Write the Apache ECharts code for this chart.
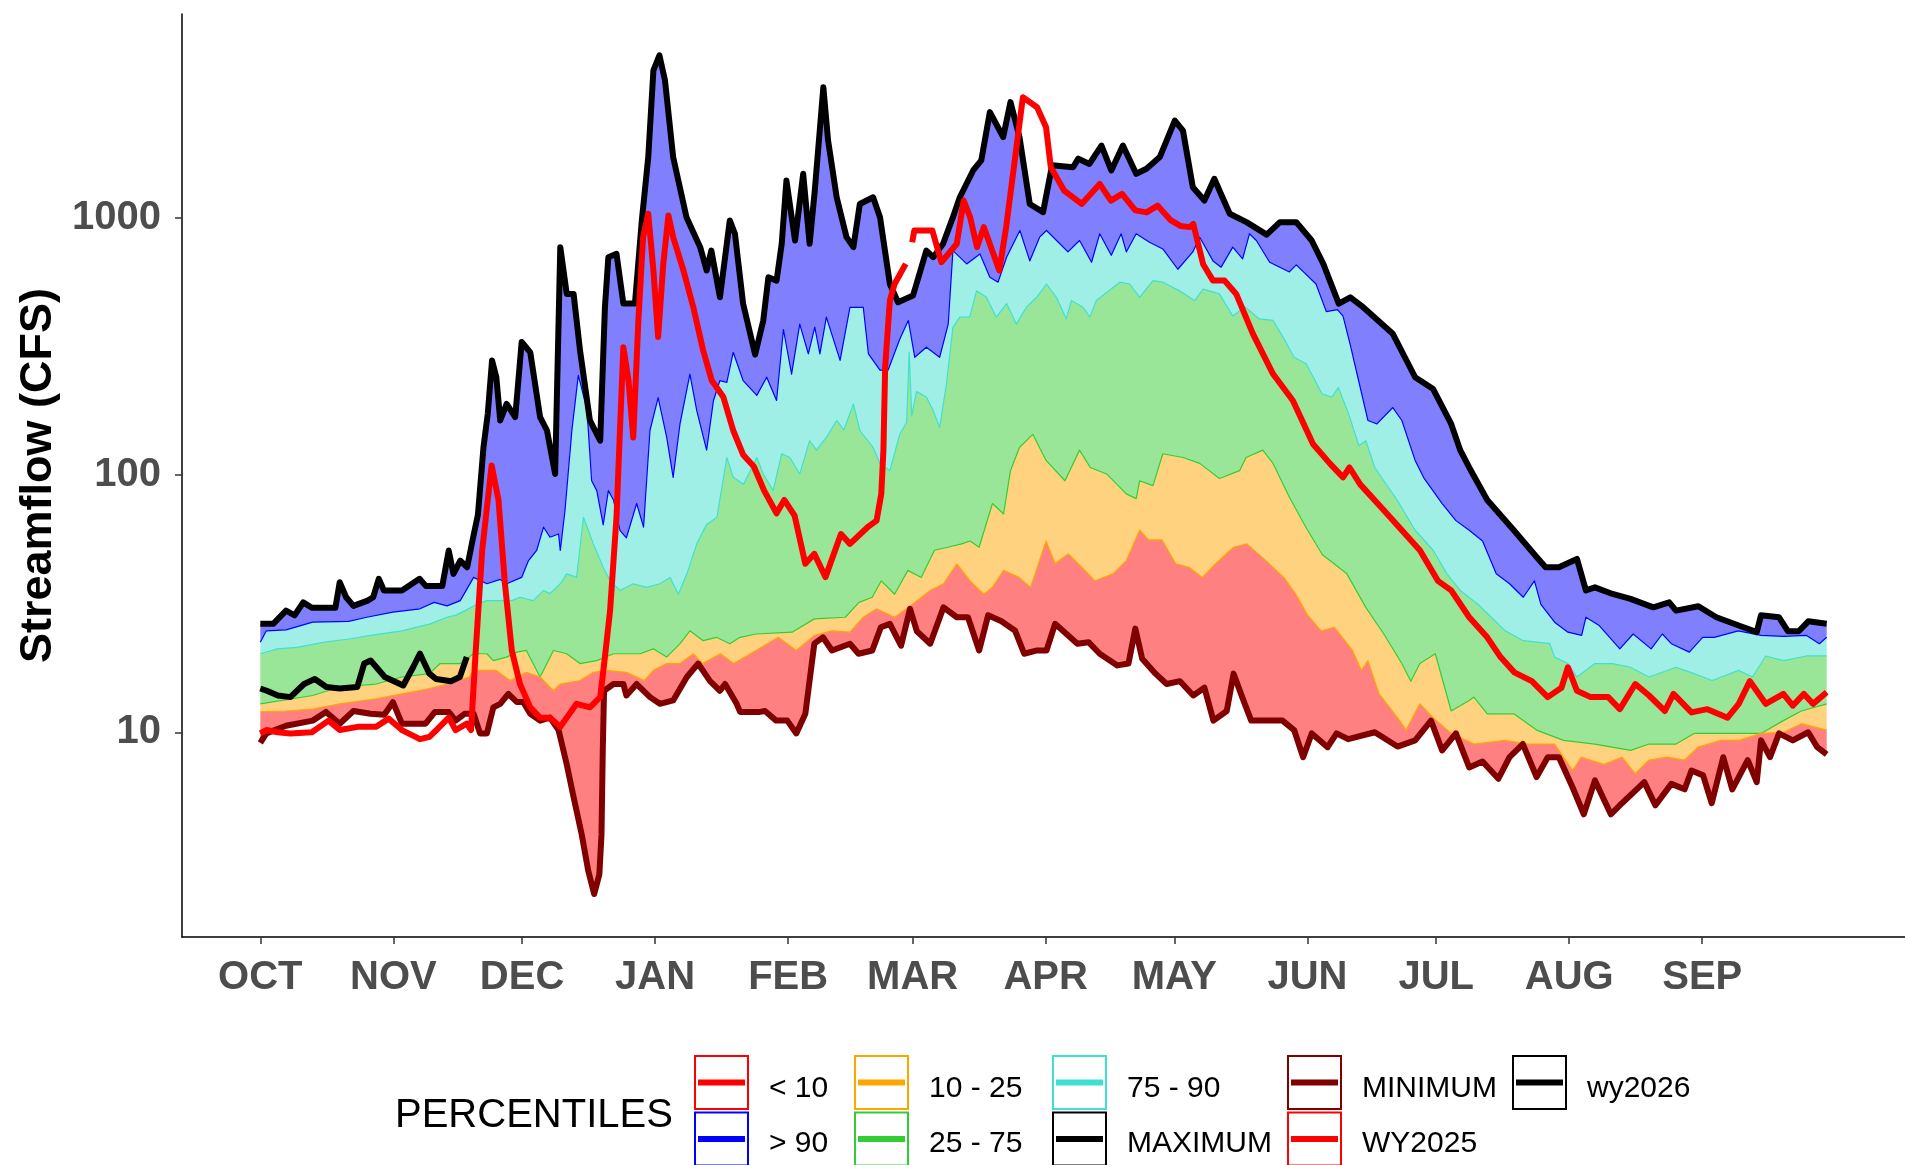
<!DOCTYPE html>
<html>
<head>
<meta charset="utf-8">
<script src="https://cdn.jsdelivr.net/npm/echarts@6/dist/echarts.min.js"></script>
<style>
  html, body { margin: 0; padding: 0; background: #ffffff; }
  #chart { width: 1905px; height: 1165px; }
</style>
</head>
<body>
<div id="chart"></div>
<script>
// Water-year axis: day 0 = Oct 1, 366-day calendar (Feb 29 included)
const monthLabels = ['OCT', 'NOV', 'DEC', 'JAN', 'FEB', 'MAR', 'APR', 'MAY', 'JUN', 'JUL', 'AUG', 'SEP'];
const monthStartDays = [0, 31, 61, 92, 123, 152, 183, 213, 244, 274, 305, 336];
const yTickValues = [10, 100, 1000];

// Daily streamflow statistics, [day of water year, cfs]
const maximum = [[0,26.4],[3,26.4],[6,29.7],[8,28.5],[10,32],[12,30.5],[17.5,30.5],[18.5,38.3],[20,33.5],[21.7,31],[25,32.5],[26.3,33.5],[27.6,39.5],[28.8,35.6],[33,35.6],[37.1,39.5],[38.6,37],[42.4,37],[43.9,50.9],[45,41.3],[46.6,46.5],[48.2,43.8],[49.6,57.3],[50.7,70],[52,128],[53,173],[54,279],[55,240],[55.9,163],[57.4,189],[59.4,168],[60.9,329],[62.9,300],[65.2,168],[66.8,149],[68.7,101],[69.9,769],[71.4,506],[73,506],[74.5,305],[76.8,163],[79.2,136],[80.3,449],[81.1,703],[83,724],[84.6,464],[87.3,464],[88.9,977],[90.4,1722],[91.6,3741],[93,4280],[94.3,3420],[96.2,1722],[99.3,1006],[102.5,769],[104,624],[105.1,746],[107.1,491],[109.4,977],[110.6,867],[112.5,464],[115.3,294],[117.2,399],[118.4,588],[120.3,570],[121.5,793],[122.6,1396],[124.6,816],[126.5,1483],[128,793],[129.2,1276],[131.2,3221],[132.3,2000],[134.3,1202],[136.6,841],[138.2,769],[139.7,1132],[142.8,1202],[144.4,1006],[146.7,553],[148.6,470],[152.1,499],[155.2,746],[156.8,703],[159.1,793],[161.4,1006],[163,1202],[166.1,1528],[168,1671],[170,2576],[173.1,2061],[174.8,2818],[176.9,2061],[179.3,1132],[182.4,1052],[184.5,1600],[189.4,1574],[190.6,1698],[193.2,1620],[196,1910],[198.3,1528],[201,1910],[204.1,1483],[206.5,1551],[209.6,1722],[213.1,2388],[215,2183],[217.3,1315],[220,1167],[222.3,1418],[225.9,1037],[229.8,962],[234.5,860],[237.6,962],[241.4,962],[245,816],[247.7,662],[251.3,464],[254,491],[256.6,455],[263.9,354],[269.1,240],[273.3,216],[277.5,158],[279.6,125],[281.7,107],[285.9,80],[292.1,61],[297.4,48],[299.5,43.8],[302.6,43.8],[306.8,47.2],[308.9,35.6],[311,36.6],[315.1,34.5],[319.3,33],[324.6,30.6],[328.3,32],[329.9,29.7],[335.1,30.9],[339.3,28],[344.5,26],[348.7,24.5],[349.7,28.5],[353.9,28],[356,24.7],[358.5,24.7],[360.7,27],[365,26.4]];

const p90 = [[0,22.4],[1.4,24.8],[6,25],[12.2,26.8],[20.6,27],[24.8,28],[30.9,29.3],[37.2,30.2],[40.5,32],[43.5,31],[46.6,32.5],[49.7,40],[52.8,37.8],[55.9,39.3],[57.4,37.8],[60.9,40],[62.5,46.5],[64.4,50.9],[66,62.7],[67.5,57.3],[69.5,59],[69.9,50.9],[71,72.8],[72.6,149],[74.1,244],[76.1,181],[77.2,95],[78.4,87],[79.9,64],[81.1,87],[82.3,80],[83.8,61],[85.3,57],[87.7,77.5],[89.3,62.7],[90.8,149],[92.7,200],[94.7,140],[96.2,98],[97.8,158],[100.1,247],[101.7,178],[104,125],[105.6,195],[107.1,233],[108.7,229],[110.2,300],[112.5,233],[115.7,204],[118,240],[120.3,195],[121.9,368],[123.8,247],[125.7,386],[127.7,296],[129.2,376],[130.4,296],[131.9,411],[135.1,279],[137.4,449],[140.5,449],[141.7,296],[144.4,256],[146.3,256],[149,337],[151,399],[152.5,287],[155.2,314],[158.3,287],[160.3,386],[161.4,746],[164.6,662],[167.7,724],[170,588],[171.9,562],[173.9,703],[177,893],[179.3,680],[181.6,841],[183.2,893],[188.2,737],[190.9,816],[193.7,672],[195.6,867],[198.3,715],[200.6,867],[201.8,737],[204.1,867],[207.2,803],[210.3,757],[213.8,631],[217.3,737],[218.9,841],[222,680],[223.9,643],[226.6,769],[228.9,693],[230.5,867],[232.1,816],[235.2,672],[239.8,616],[241.4,656],[246,553],[248.4,432],[251,440],[252.3,415],[254,320],[256,230],[258.1,163],[260.2,158],[263.9,183],[266,163],[269.1,114],[271.2,97],[275.4,77.5],[278.6,66.5],[281.7,61],[284.8,55.4],[288,41.3],[291.1,37.8],[294.3,33.5],[296.9,38.8],[298.4,31.4],[301.6,26.8],[304.7,24.5],[307.9,23.8],[308.9,28],[312,26],[316.8,21.1],[319.9,24.1],[324.1,21.1],[326.7,24.1],[328.8,22.1],[333,20.5],[336.1,23.4],[338.8,23.4],[344.4,24.8],[349.7,23.8],[355,23.6],[360.3,23.8],[363.3,22.1],[365,23.4]];

const p75 = [[0,20.2],[4,21.1],[8.5,21.4],[15,22.4],[21,23.1],[25.7,23.8],[33,24.8],[39.6,26.4],[43.5,28],[45.8,28.6],[50.4,31.4],[52.8,32.5],[58.6,32.5],[60.5,33.5],[63.6,32.5],[66,35.6],[67.5,34.6],[69.9,37.8],[71.4,41.3],[73.7,40],[75.3,68.5],[77.6,54],[79.9,43.8],[81.5,38.8],[83.8,35.6],[86.9,37.8],[90,36.6],[93.1,37.8],[95.5,40],[97.4,34.4],[99.4,41.3],[101.7,54],[104,64.3],[106.4,68.5],[108.7,117],[110.2,98],[112.6,92],[115.7,117],[117.2,101],[119.5,87],[121.5,121],[123.4,117],[125.7,101],[128,136],[129.6,125],[131.9,140],[134.3,163],[136,150],[138.2,189],[139.7,149],[142.8,128],[144.4,111],[146.7,104],[149,144],[150.6,160],[151.2,300],[151.8,170],[152.9,211],[155.2,201],[156.8,178],[158.3,153],[159.9,227],[161.4,376],[163,411],[165.3,411],[166.9,520],[169.2,491],[171.5,411],[173.9,464],[176.2,386],[178.5,449],[180.9,491],[183.2,553],[185.5,491],[187.8,405],[189,477],[191.7,449],[193.3,411],[194.8,477],[200.3,562],[202.6,553],[204.9,491],[208,570],[210.3,562],[214.2,520],[217.7,477],[219.7,528],[223.5,506],[226.6,415],[229.5,450],[232.7,405],[236,399],[238.8,333],[240.9,287],[243.7,271],[247.4,207],[249.7,201],[251.2,219],[253.6,173],[256,130],[257.6,136],[259.7,107],[261.8,95],[264.9,80],[269.1,61],[273.3,51],[276.5,41.3],[279.6,35.6],[283.8,31.4],[290.1,24.8],[294.3,22.7],[300.5,22.1],[301.6,19.6],[304.7,18.5],[306.8,16.4],[311,18.5],[315.1,18.5],[319.3,17.9],[323.6,16.4],[329.9,17.9],[334.1,16.9],[338.3,15.9],[344.5,17.4],[347.7,16.4],[350.8,19.8],[355,19],[360.2,19.8],[365,19.8]];

const p25 = [[0,12.9],[12.2,13.9],[18.5,15],[27,15.4],[33,16.4],[39.4,16.9],[41.9,18.5],[46.6,18.5],[49.7,20.2],[52.8,20.2],[54.3,19],[57.4,19.6],[59.8,20.5],[62,20.8],[65.2,16.4],[68.3,20.8],[71.4,20.2],[74.5,18.5],[78.4,19],[82.3,20.2],[85.3,20.2],[88.5,20.2],[91.6,21.1],[94.7,19.6],[97.8,22.1],[100.1,24.8],[103.2,22.7],[106.3,23.4],[109.4,22.1],[111.8,23.4],[115.5,24.1],[123.9,24.5],[129.1,27.6],[136.3,28],[139.5,32],[142.6,33.5],[144.7,38.8],[147.8,34.4],[150.9,42.6],[154,40],[157.1,51],[160.2,52.4],[163.4,54],[165.4,55.4],[167.5,52.4],[170.6,77.5],[173.2,70.6],[174.8,104],[176.9,128],[180,144],[183.1,114],[187.5,95],[190.9,125],[193.4,107],[197.2,101],[201.8,84.5],[204.1,81],[204.9,95],[208,91],[210.3,121],[215,117],[218.9,111],[223.5,97],[228.2,104],[229.7,117],[233.6,125],[236,111],[239.8,82],[243.8,62],[247.5,49],[253.2,41.3],[257.6,30.6],[261.8,24.1],[266,18.5],[268.1,15.8],[270.2,18.5],[273.8,20.2],[277.5,12.1],[281.7,13.3],[282.8,13.7],[285.9,11.8],[292.1,11.8],[297.4,10.2],[303.7,9.3],[311,9],[319.3,8.5],[323.6,9],[329.9,9],[334.1,9.9],[349.7,9.9],[354.9,11.1],[359.1,12.1],[365,12.9]];

const p10 = [[0,12],[6,12.1],[12.2,12.3],[18.5,12.9],[27,13.5],[33,14.1],[39.4,14.8],[43.5,15.4],[48.7,16.4],[49.7,17.4],[55,17.4],[58.2,15.9],[62,17.1],[65.2,16.4],[68.3,14.5],[69.9,15.4],[74.5,15.9],[77.6,17.1],[80.7,17.4],[85.3,17.1],[89.5,15.9],[91.6,17.4],[94.7,18.5],[97.8,18.5],[100.9,20.2],[103.1,18.5],[107.2,20.2],[110.3,18.5],[115.5,20.8],[120.7,23.4],[124.9,20.8],[129.1,23.8],[133.2,24.8],[137.4,24.5],[140.5,28],[143.6,30.2],[147.8,28],[151.9,31.4],[156.1,35.6],[159.2,37.8],[162.3,45.2],[165.4,38.8],[168.6,34.4],[170.6,36.6],[173.2,42.6],[176.8,40],[179.5,36.6],[183.1,55.4],[185.2,45.2],[188.3,49.4],[191.4,43.8],[194.5,38.8],[198.7,41.3],[201.8,46.5],[204.9,61],[207,56],[210.1,56],[213.3,45.2],[216.4,43.8],[219.5,40],[222.6,45.2],[226.8,52.4],[229.9,54],[234.3,46.5],[238.5,40],[241.3,34.4],[244,28.6],[247.2,24.8],[250.3,25.6],[254.5,20.8],[256.6,17.4],[258.1,19],[260.7,14.1],[265,11.4],[267,10.2],[270.2,12.9],[273.3,11.4],[277.5,9.9],[282.8,9],[290.1,9.3],[295.3,9],[301.6,9],[305.8,7.1],[307.8,8],[313.1,7.5],[317.3,8],[320.4,6.9],[323.6,7.8],[327.8,8],[331.9,7.8],[335,8.75],[340.3,9.3],[344.5,9.3],[349.7,9.9],[355,10],[359.1,10.8],[365,10.2]];

const minimum = [[0,9.1],[1.4,9.9],[6,10.6],[12.2,11.1],[15.3,12],[18.5,10.8],[21.7,12.1],[25.7,11.8],[28.9,11.7],[30.9,13.1],[33,10.8],[38.5,10.8],[40.7,12],[43.9,12],[45.5,11.1],[47.6,11.8],[49.7,11.8],[51.2,9.9],[52.8,9.9],[54.3,12.5],[55.9,12.9],[57.8,14.1],[59.8,13.1],[61.3,13.1],[62.9,11.8],[65.2,11.1],[67.5,11.4],[69.5,10.2],[71.4,7.5],[73,5.6],[74.9,4],[76.4,2.9],[77.8,2.35],[79,2.8],[79.5,4],[79.8,8.5],[80.1,14.5],[82.3,15.4],[84.6,15.4],[85.3,13.9],[87.7,15.4],[90.8,13.7],[93.1,12.9],[96.2,13.3],[99.4,16.4],[102,18.5],[104.8,15.8],[107.1,14.5],[108.3,15.4],[111,12.9],[111.8,12],[116.4,12],[117.6,12.1],[120.2,11.1],[122.8,11.1],[124.9,9.9],[127,11.8],[129.1,22.1],[131.1,23.4],[133.2,20.8],[137.4,22.1],[139.4,20.2],[142.6,20.8],[144.6,25.6],[146.7,26.4],[149.3,21.7],[151.4,30.2],[153,24.7],[156.1,22.1],[159.2,30.6],[162.3,28],[164.9,28],[167.5,20.8],[169.6,28.5],[172.7,27],[175.9,24.8],[178,20.2],[181,20.8],[183.2,20.8],[185.2,26.4],[190.4,22.1],[193,22.4],[195.6,20.2],[199.7,18.2],[202.3,18.5],[203.9,25.3],[205.5,19.3],[208.6,16.9],[211.2,15.4],[214.3,15.8],[217.4,13.9],[220,14.9],[222.1,11.1],[225.2,12.1],[226.8,16.9],[228.8,13.7],[230.9,11.1],[238.2,11.1],[240.9,10.2],[243,8],[245,9.9],[248.7,8.75],[250.8,9.9],[253.5,9.4],[259.7,10],[265,8.8],[269.1,9.3],[272.8,11.1],[275.4,8.5],[278.6,9.9],[281.7,7.3],[284.8,7.7],[288.5,6.6],[291.1,8],[294.2,9],[297.4,6.7],[300,8],[302.6,8],[305.8,6.1],[308.4,4.8],[311,6.5],[314.7,4.8],[317.3,5.3],[322.5,6.4],[325.1,5.2],[328.8,6.3],[331.9,6],[333.5,7.1],[336.2,6.8],[338.2,5.3],[340.9,8],[343,6],[346.6,7.8],[348.7,6.4],[349.7,9.3],[351.8,8],[353.9,9.9],[357.1,9.3],[360.7,10],[362.8,8.75],[365,8.2]];

// Observed daily flow, water year 2025 (null = missing record)
const wy2025 = [[0,9.9],[1.4,10.2],[4,10],[7,9.9],[12,10],[15.9,11.1],[18.5,10.2],[22.7,10.5],[27,10.5],[29.9,11.3],[33,10.2],[37.2,9.4],[39.4,9.6],[41.3,10.3],[43.9,11.4],[45.5,10.2],[48.1,10.8],[49.1,10.2],[50.2,20.8],[51.7,50.9],[53.9,109],[55.5,80],[57,37.8],[58.6,20.8],[60.5,15.4],[62.9,12.5],[65.2,11.4],[67.5,11.4],[69.9,10.5],[71.4,11.4],[73.7,12.9],[76.8,12.5],[79.2,13.7],[80.3,19.6],[81.5,29.7],[83,68.5],[83.8,149],[84.6,314],[85.8,233],[86.9,140],[88.1,399],[89.2,841],[90.4,1037],[91.6,624],[92.7,344],[93.9,662],[95.1,1022],[96.2,841],[98.6,624],[100.9,449],[103.2,305],[105.2,233],[107.9,201],[110.2,149],[112.5,120],[115,108],[117.4,87],[120.3,71],[122.1,80],[124.5,69.5],[127,45.2],[129.1,49.4],[131.7,40.1],[135.3,59],[137.4,54],[141.5,62.7],[143.6,66.5],[144.7,84.5],[145.2,125],[145.6,262],[146.7,477],[147.8,553],[150.4,662],[151.1,null],[151.9,803],[152.4,893],[156.6,893],[158.7,672],[162.3,793],[163.9,1167],[165.4,1006],[167,769],[168.6,920],[172.2,624],[173.8,920],[175.8,1671],[177.7,2944],[181,2692],[183.1,2249],[184.2,1574],[187.3,1276],[191.4,1132],[195.6,1355],[198.2,1167],[200.8,1239],[203.9,1069],[206.5,1050],[209.1,1115],[212.2,977],[214.4,930],[216.6,920],[217.4,947],[219.7,660],[222,570],[224.7,570],[227.4,506],[231.3,354],[236,247],[240.6,195],[245.3,132],[249.2,111],[252.3,98],[253.8,107],[256.3,92],[261.8,73],[266,61],[270.2,51],[274.4,38.8],[277.5,35.6],[281.7,28],[285.9,23.4],[289,19.6],[292.2,17.1],[296.3,15.8],[300,13.7],[303.2,14.9],[304.7,17.9],[306.8,14.5],[310,13.7],[314.1,13.7],[316.8,12.3],[320.4,15.4],[323.6,13.9],[327.3,12.1],[329.3,14.1],[333.5,11.95],[337.2,12.3],[341.9,11.4],[344.5,12.9],[347.1,15.8],[350.8,12.9],[354.9,14.1],[357.1,12.7],[359.7,14.1],[361.8,12.9],[365,14.3]];

// Observed daily flow, current water year to date
const wy2026 = [[0,14.8],[1.5,14.5],[4.1,13.9],[7,13.7],[10.2,15.4],[12.7,16.1],[15.4,15],[18.5,14.8],[22.6,15],[24.2,18.5],[25.7,19],[29,16.4],[33.3,15.2],[35.6,17.9],[37.2,20.2],[39.4,16.9],[41,16.1],[44.4,15.8],[46.5,16.4],[48.1,19.6]];

// Legend entries, column by column (two rows per column)
const legendLabels = [['< 10', '> 90'], ['10 - 25', '25 - 75'], ['75 - 90', 'MAXIMUM'], ['MINIMUM', 'WY2025'], ['wy2026']];
const legendColors = [['#FF0000', '#0000FF'], ['#FFA500', '#32CD32'], ['#40E0D0', '#000000'], ['#800000', '#FF0000'], ['#000000']];

const FONT = '"Liberation Sans", Arial, Helvetica, sans-serif';

// Filled band between two percentile curves, projected through the grid's axes
function band(name, upper, lower, fill) {
  return {
    name: name, type: 'custom', coordinateSystem: 'cartesian2d',
    silent: true, animation: false, z: 1,
    data: [[upper[0][0], upper[0][1]]],
    encode: { x: 0, y: 1 },
    renderItem: function (params, api) {
      const pts = [];
      for (let i = 0; i < upper.length; i++) pts.push(api.coord(upper[i]));
      for (let i = lower.length - 1; i >= 0; i--) pts.push(api.coord(lower[i]));
      return { type: 'polygon', shape: { points: pts }, style: { fill: fill, stroke: null } };
    }
  };
}
function trace(name, data, color, width, z) {
  return {
    name: name, type: 'line', data: data, showSymbol: false, symbol: 'none',
    silent: true, animation: false, z: z, connectNulls: false,
    lineStyle: { color: color, width: width, join: 'round', cap: 'butt' }
  };
}

// Legend drawn as graphic keys: outlined box with a line through it
const keyLeft = [695, 855, 1053, 1288, 1513];
const keyTop = [1056, 1112.5];
const keySize = 53;
const textRowY = [1089, 1144];
const legendGraphics = [{
  type: 'text', x: 395, y: 1116, silent: true,
  style: { text: 'PERCENTILES', font: '40px ' + FONT, fill: '#000', verticalAlign: 'middle', align: 'left' }
}];
legendLabels.forEach(function (col, c) {
  col.forEach(function (label, r) {
    const color = legendColors[c][r];
    legendGraphics.push({
      type: 'rect', silent: true,
      shape: { x: keyLeft[c], y: keyTop[r], width: keySize, height: keySize },
      style: { fill: '#ffffff', stroke: color, lineWidth: 2 }
    });
    legendGraphics.push({
      type: 'line', silent: true,
      shape: { x1: keyLeft[c] + 3, y1: keyTop[r] + keySize / 2, x2: keyLeft[c] + keySize - 3, y2: keyTop[r] + keySize / 2 },
      style: { stroke: color, lineWidth: 6 }
    });
    legendGraphics.push({
      type: 'text', x: keyLeft[c] + 74, y: textRowY[r], silent: true,
      style: { text: label, font: '30px ' + FONT, fill: '#000', verticalAlign: 'middle', align: 'left' }
    });
  });
});

const chart = echarts.init(document.getElementById('chart'), null, { renderer: 'canvas' });
chart.setOption({
  backgroundColor: '#ffffff',
  animation: false,
  grid: { left: 182, right: 0, top: 14, bottom: 228, containLabel: false },
  xAxis: {
    type: 'value', min: -18.25, max: 383.25, z: 10,
    splitLine: { show: false },
    axisLine: { show: true, onZero: false, lineStyle: { color: '#000', width: 1.5 } },
    axisTick: { show: true, length: 7, customValues: monthStartDays, lineStyle: { color: '#333', width: 1.5 } },
    axisLabel: {
      customValues: monthStartDays, margin: 21,
      formatter: function (v) { return monthLabels[monthStartDays.indexOf(Math.round(v))] || ''; },
      fontFamily: FONT, fontWeight: 'bold', fontSize: 40, color: '#4D4D4D'
    }
  },
  yAxis: {
    type: 'log', logBase: 10, min: 1.6, max: 6200, z: 10,
    name: 'Streamflow (CFS)', nameLocation: 'middle', nameGap: 116,
    nameTextStyle: { fontFamily: FONT, fontWeight: 'bold', fontSize: 45, color: '#000' },
    splitLine: { show: false },
    axisLine: { show: true, onZero: false, lineStyle: { color: '#000', width: 1.5 } },
    axisTick: { show: true, length: 7, customValues: yTickValues, lineStyle: { color: '#333', width: 1.5 } },
    axisLabel: {
      customValues: yTickValues, margin: 21,
      formatter: function (v) { return String(Math.round(v)); },
      fontFamily: FONT, fontWeight: 'bold', fontSize: 40, color: '#4D4D4D'
    }
  },
  graphic: legendGraphics,
  series: [
    band('> 90', maximum, p90, '#8080FF'),
    band('75 - 90', p90, p75, '#A0EFE7'),
    band('25 - 75', p75, p25, '#99E699'),
    band('10 - 25', p25, p10, '#FFD280'),
    band('< 10', p10, minimum, '#FF8080'),
    trace('p90', p90, '#0000FF', 1.2, 2),
    trace('p75', p75, '#40E0D0', 1.2, 2),
    trace('p25', p25, '#32CD32', 1.2, 2),
    trace('p10', p10, '#FFA500', 1.2, 2),
    trace('MINIMUM', minimum, '#800000', 6, 3),
    trace('MAXIMUM', maximum, '#000000', 6, 3),
    trace('wy2026', wy2026, '#000000', 6, 4),
    trace('WY2025', wy2025, '#FF0000', 6, 5)
  ]
});
</script>
</body>
</html>
